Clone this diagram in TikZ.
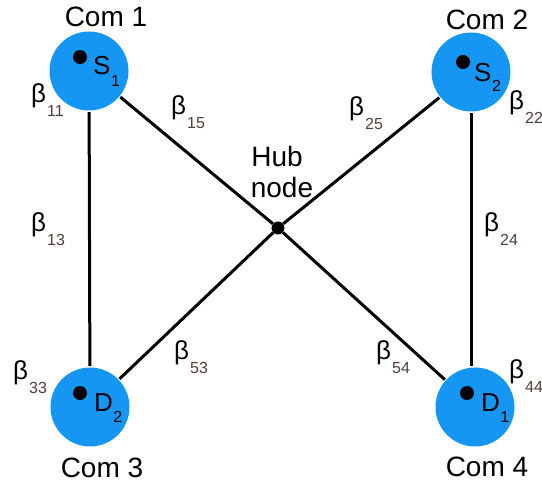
\documentclass[tikz,border=0pt]{standalone}
\usepackage{fontspec}
\setmainfont{Liberation Sans}
\definecolor{combl}{RGB}{22,150,243}
\definecolor{subc}{RGB}{78,64,58}
\newcommand\blab[1]{β\kern1pt\raisebox{-14pt}{\fontsize{16}{16}\selectfont\color{subc}#1}}
\newcommand\inlab[3]{#1\kern0.5pt\raisebox{-#3pt}{\fontsize{16}{16}\selectfont #2}}
\begin{document}
\begin{tikzpicture}[x=1pt,y=-1pt,
  com/.style={circle, fill=combl, minimum size=79pt, inner sep=0pt},
  dotn/.style={circle, fill=black, minimum size=14pt, inner sep=0pt},
  hubdot/.style={circle, fill=black, minimum size=13pt, inner sep=0pt},
  blbl/.style={inner sep=0pt, anchor=base west, font=\fontsize{26}{26}\selectfont},
  inl/.style={inner sep=0pt, anchor=base west, font=\fontsize{26}{26}\selectfont},
  big/.style={inner sep=0pt, anchor=base, font=\fontsize{28}{28}\selectfont},
  link/.style={line width=3pt}]
\useasboundingbox (0,0) rectangle (542,486);
% communities
\node[com] (c1) at (89,71) {};
\node[com] (c2) at (471,72) {};
\node[com] (c3) at (90,407) {};
\node[com] (c4) at (475,407) {};
\node[hubdot] (hub) at (278,228) {};
% dots inside circles
\node[dotn] (d1) at (80,57) {};
\node[dotn] (d2) at (463,62) {};
\node[dotn] (d3) at (80,393) {};
\node[dotn] (d4) at (467,393) {};
% inner labels
\node[inl] (s1) at (93,75) {\inlab{S}{1}{12}};
\node[inl] (s2) at (474,82) {\inlab{S}{2}{10}};
\node[inl] (t2) at (94,412) {\inlab{D}{2}{11}};
\node[inl] (t1) at (481,412) {\inlab{D}{1}{11}};
% connectors
\draw[link, shorten <=1.5pt, shorten >=1.5pt] (c1) -- (c3);
\draw[link, shorten <=1.5pt, shorten >=1.5pt] (c2.south) -- (c2.south |- c4.north);
\draw[link, shorten <=1pt] (c1) -- (hub);
\draw[link, shorten >=1pt] (hub) -- (c4);
\draw[link, shorten <=1pt] (c2) -- (hub);
\draw[link, shorten >=1pt] (hub) -- (c3);
% community labels
\node[big] (l1) at (106,27) {Com 1};
\node[big] (l2) at (487,30) {Com 2};
\node[big] (l3) at (102,478) {Com 3};
\node[big] (l4) at (487,477) {Com 4};
% hub label
\node[big] (hubt) at (277,167) {Hub};
\node[big] (hubn) at (282,198) {node};
% beta labels
\node[blbl] (b11) at (31,103) {\blab{11}};
\node[blbl] (b13) at (31,232) {\blab{13}};
\node[blbl] (b15) at (171,115) {\blab{15}};
\node[blbl] (b25) at (349,116) {\blab{25}};
\node[blbl] (b22) at (509,110) {\blab{22}};
\node[blbl] (b24) at (484,232) {\blab{24}};
\node[blbl] (b33) at (13,380) {\blab{33}};
\node[blbl] (b53) at (174,360) {\blab{53}};
\node[blbl] (b54) at (376,360) {\blab{54}};
\node[blbl] (b44) at (509,379) {\blab{44}};
\end{tikzpicture}
\end{document}
